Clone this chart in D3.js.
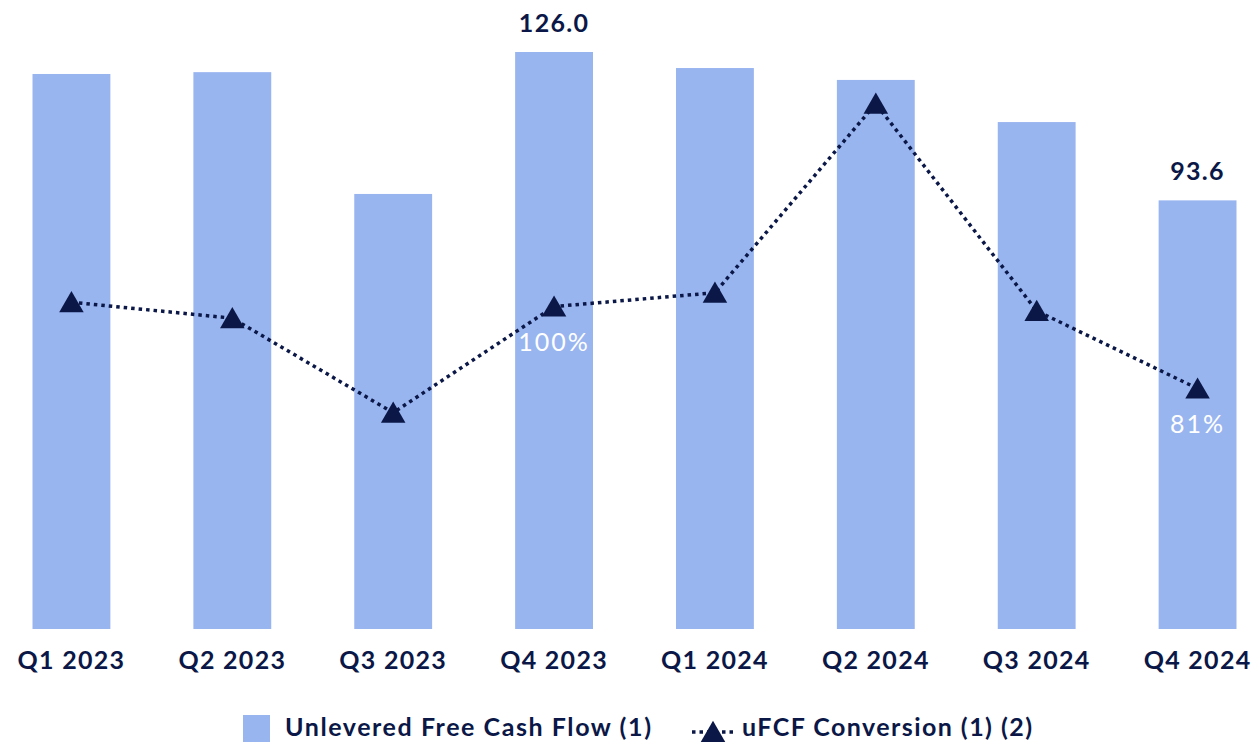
<!DOCTYPE html>
<html><head><meta charset="utf-8">
<script src="https://cdn.jsdelivr.net/npm/d3@7"></script>
<style>body{margin:0;background:#fff}svg{display:block}</style>
</head><body>
<svg id="c" width="1253" height="743"></svg>
<script>
const categories = ["Q1 2023","Q2 2023","Q3 2023","Q4 2023","Q1 2024","Q2 2024","Q3 2024","Q4 2024"];
const ufcf = [121.2,121.6,95.0,126.0,122.5,119.9,110.7,93.6];
const conversion = [101.0,97.3,75.4,100,103.2,147.0,99.0,81];
const barLabels = {"Q4 2023":"126.0","Q4 2024":"93.6"};
const convLabels = {"Q4 2023":"100%","Q4 2024":"81%"};
const legendLabels = ["Unlevered Free Cash Flow (1)","uFCF Conversion (1) (2)"];

const barColor = "#99b5f0", navy = "#0b1847";
const font = "Lato, 'Open Sans', sans-serif";
const svg = d3.select("#c");

const x = d3.scaleBand().domain(categories).range([-9, 1278]).paddingInner(0.516).paddingOuter(0.258);
const y = d3.scaleLinear().domain([0,126]).range([629,52]);
const y2 = d3.scaleLinear().domain([0,160]).range([738.1,47.6]);
const cx = c => x(c) + x.bandwidth()/2;

svg.selectAll("rect.bar").data(categories).join("rect").attr("class","bar")
  .attr("x", d=>x(d)).attr("width", x.bandwidth())
  .attr("y", (d,i)=>y(ufcf[i])).attr("height",(d,i)=>y(0)-y(ufcf[i]))
  .attr("fill", barColor);

// x axis labels
const xAxis = d3.axisBottom(x).tickSize(0).tickPadding(0);
const ga = svg.append("g").attr("transform","translate(0,629)").call(xAxis);
ga.select(".domain").remove();
ga.selectAll("text").attr("font-family",font).attr("font-weight",700).attr("font-size",25)
  .attr("letter-spacing",1.3).attr("fill",navy).attr("dy",null).attr("y",40);

// bar value labels
svg.selectAll("text.bl").data(categories.filter(c=>barLabels[c])).join("text").attr("class","bl")
  .attr("x", d=>cx(d)).attr("y", d=>y(ufcf[categories.indexOf(d)])-20)
  .attr("text-anchor","middle").attr("font-family",font).attr("font-weight",700).attr("font-size",25)
  .attr("letter-spacing",1.3).attr("fill",navy).text(d=>barLabels[d]);

// line
const line = d3.line().x((d,i)=>cx(categories[i])).y(d=>y2(d));
svg.append("path").datum(conversion).attr("d",line).attr("fill","none")
  .attr("stroke",navy).attr("stroke-width",3.5).attr("stroke-dasharray","3.5,4");

const tri = d3.symbol().type(d3.symbolTriangle).size(260);
svg.selectAll("path.m").data(conversion).join("path").attr("class","m")
  .attr("d", tri)
  .attr("transform",(d,i)=>`translate(${cx(categories[i])},${y2(d)+3})`)
  .attr("fill",navy);

svg.selectAll("text.cl").data(categories.filter(c=>convLabels[c])).join("text").attr("class","cl")
  .attr("x", d=>cx(d)).attr("y", d=>y2(conversion[categories.indexOf(d)])+44.5)
  .attr("text-anchor","middle").attr("font-family",font).attr("font-weight",400).attr("font-size",25)
  .attr("letter-spacing",2).attr("fill","#ffffff").text(d=>convLabels[d]);

// legend
const lg = svg.append("g");
lg.append("rect").attr("x",243).attr("y",715).attr("width",27).attr("height",27).attr("fill",barColor);
lg.append("text").attr("x",285).attr("y",736).attr("font-family",font).attr("font-weight",700)
  .attr("font-size",25).attr("textLength",366).attr("lengthAdjust","spacing")
  .attr("fill",navy).text(legendLabels[0]);
lg.append("line").attr("x1",692).attr("x2",734).attr("y1",732).attr("y2",732)
  .attr("stroke",navy).attr("stroke-width",3.5).attr("stroke-dasharray","3.5,4");
lg.append("path").attr("d",tri).attr("transform","translate(713,735)").attr("fill",navy);
lg.append("text").attr("x",742).attr("y",736).attr("font-family",font).attr("font-weight",700)
  .attr("font-size",25).attr("textLength",290).attr("lengthAdjust","spacing")
  .attr("fill",navy).text(legendLabels[1]);
</script>
</body></html>
